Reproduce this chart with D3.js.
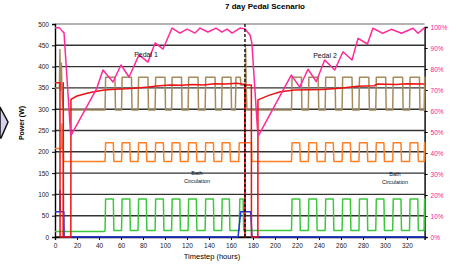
<!DOCTYPE html>
<html>
<head>
<meta charset="utf-8">
<script src="https://cdn.jsdelivr.net/npm/d3@7"></script>
<style>
  body { margin: 0; background: #fff; }
  svg { display: block; font-family: "Liberation Sans", Arial, sans-serif; }
</style>
</head>
<body>
<svg width="457" height="265"></svg>
<script>
// tick labels
const hourTicks = [0, 20, 40, 60, 80, 100, 120, 140, 160, 180, 200, 220, 240, 260, 280, 300, 320];
const powerTicks = [0, 50, 100, 150, 200, 250, 300, 350, 400, 450, 500];
const pctTicks = [0, 10, 20, 30, 40, 50, 60, 70, 80, 90, 100];

// pink line, right axis (%), [hour, percent]
const pinkPct = [
  [0, 99.7], [3.9, 99.7], [7, 97.8], [8.2, 97.3], [14.3, 48.2], [38, 70.8], [43.6, 79.5],
  [52.7, 73.8], [60, 81.9], [67.3, 76.2], [76.4, 86.7], [84.5, 83.3], [91, 92.4], [98.2, 89.5],
  [106.4, 99.5], [113.6, 97.1], [120, 99], [127.3, 97.1], [131.8, 99.5], [139, 97.6],
  [146.4, 99.5], [151.8, 97.6], [156.4, 99], [161, 97.1], [168.2, 99.5], [172.7, 99],
  [177.3, 96.2], [179, 92.4], [184.5, 47.8], [208, 70.5], [214.8, 77.1], [222.5, 71.4],
  [230, 79.9], [237.5, 74], [245.2, 84.3], [254.3, 79.5], [261.8, 88.2], [270, 84.3],
  [275.5, 94.6], [284, 91.9], [289, 99.4], [298, 97], [305.7, 98.9], [315, 97],
  [325.5, 99.4], [330, 97], [336, 99.7]
];

// red line (W)
const redW = [
  [0, 362], [4.5, 362], [4.6, 0], [7.4, 0], [7.5, 362], [7.7, 0], [14.4, 0], [14.5, 323],
  [20, 331], [30, 338], [38, 342], [45, 345], [55, 347], [65, 348], [75, 350], [85, 352],
  [95, 355], [105, 357], [115, 356], [125, 358], [135, 357], [145, 360], [155, 359],
  [165, 361], [172.5, 358], [172.6, 0], [172.8, 0], [172.9, 357], [178.5, 357], [178.6, 0],
  [184.4, 0], [184.5, 322], [195, 333], [205, 341], [218, 345], [243, 346], [259, 349],
  [275, 354], [290, 355], [293, 359], [310, 358], [320, 360], [336, 359]
];

// brown (W): start, on-periods, and the part around the dashed line
const brownStart = [[0, 350], [4, 350], [4.5, 440], [5, 345], [5.8, 408], [6.5, 330], [7.5, 298]];
const brownOn1 = [[45.5, 54.5], [60.5, 69.5], [75.5, 84.5], [91, 100], [106, 115], [121, 130], [136.5, 145.5], [151.5, 160]];
const brownMid = [[164, 298], [164.5, 375], [168.5, 375], [169, 357], [172.8, 357], [173.3, 444], [173.8, 357], [174.5, 298]];
const brownOn2 = [[215, 224], [230.3, 239.3], [245.6, 254.6], [261, 270], [276.3, 285.3], [291.6, 300.6], [307, 316], [322.3, 331.3], [335.6, 337]];
const brownLow = 298, brownHigh = 375;

// orange (W)
const orangeStart = [[0, 208], [6, 208], [6.2, 265], [6.5, 208], [7.5, 208], [7.8, 177]];
const orangeOn = [[45.5, 53], [60.5, 68], [75.5, 83], [91, 98.5], [106, 113.5], [121, 128.5], [136.5, 144], [151.5, 159], [167, 178.5],
  [215, 222.5], [230.3, 237.8], [245.6, 253], [261, 268.5], [276.3, 283.8], [291.6, 299], [307, 314.5], [322.3, 329.8], [335.5, 337]];
const orangeLow = 177, orangeHigh = 221;

// green (W)
const greenStart = [[0, 13], [45, 13]];
const greenOn = [[45.5, 53], [60.5, 68], [75.5, 83], [91, 98.5], [106, 113.5], [121, 128.5], [136.5, 144], [151.5, 158.5], [167.5, 171],
  [215, 222.5], [230.3, 237.8], [245.6, 253], [261, 268.5], [276.3, 283.8], [291.6, 299], [307, 314.5], [322.3, 329.8], [335.5, 337]];
const greenLow = 15, greenHigh = 89;

// blue (W)
const blueW = [
  [0, 59], [4.4, 59], [4.6, 110], [4.8, 59], [8, 59], [8.3, 0], [166.4, 0], [168.8, 59],
  [172.3, 59], [172.5, 106], [172.7, 59], [177.9, 59], [179.1, 0], [336, 0]
];

const dashedHour = 172.7;

function steps(on, lo, hi) {
  const pts = [];
  on.forEach(([a, b]) => {
    pts.push([a, lo], [a + 0.5, hi], [b, hi], [b + 0.5, lo]);
  });
  return pts;
}

const svg = d3.select('svg');
const plotLeft = 55, plotRight = 424.6, plotTop = 24, plotBottom = 237;

const x = d3.scaleLinear().domain([0, 336]).range([plotLeft, plotRight]);
const y = d3.scaleLinear().domain([0, 500]).range([plotBottom, plotTop]);
const yPct = d3.scaleLinear().domain([0, 100]).range([plotBottom, 27]);

svg.append('defs').append('clipPath').attr('id', 'plot')
  .append('rect').attr('x', plotLeft).attr('y', 0)
  .attr('width', plotRight - plotLeft + 1).attr('height', plotBottom + 2);

// odd shape at the left edge
svg.append('path')
    .attr('d', 'M0,107 L8,122 L1,138 L0,138 Z')
    .attr('fill', '#d9d0ef')
    .attr('stroke', '#111')
    .attr('stroke-width', 1.5);

// grid
svg.append('g')
  .selectAll('line')
  .data(powerTicks)
  .join('line')
    .attr('x1', plotLeft).attr('x2', plotRight)
    .attr('y1', d => y(d)).attr('y2', d => y(d))
    .attr('stroke', d => d === 500 ? '#9a9a9a' : '#333')
    .attr('stroke-width', 1.4);

// axes
const xAxis = svg.append('g')
    .attr('transform', `translate(0,${plotBottom})`)
    .call(d3.axisBottom(x).tickValues(hourTicks).tickSize(3).tickPadding(3));
const yAxis = svg.append('g')
    .attr('transform', `translate(${plotLeft},0)`)
    .call(d3.axisLeft(y).tickValues(powerTicks).tickSize(3).tickPadding(3));
const pAxis = svg.append('g')
    .attr('transform', `translate(${plotRight},0)`)
    .call(d3.axisRight(yPct).tickValues(pctTicks).tickSize(3).tickPadding(3).tickFormat(d => d + '%'));

[xAxis, yAxis, pAxis].forEach(g => {
  g.select('.domain').attr('stroke', '#000').attr('stroke-width', 1.4);
  g.selectAll('.tick line').attr('stroke', '#000');
  g.selectAll('text').attr('font-size', 6.5).attr('fill', '#222');
});
pAxis.selectAll('text').attr('fill', '#ff1493');

const line = d3.line().x(d => x(d[0])).y(d => y(d[1]));
const pctLine = d3.line().x(d => x(d[0])).y(d => yPct(d[1]));

const series = svg.append('g').attr('clip-path', 'url(#plot)');

function draw(points, color, gen) {
  series.append('path')
      .attr('d', (gen || line)(points))
      .attr('fill', 'none')
      .attr('stroke', color)
      .attr('stroke-width', 1.5)
      .attr('stroke-linejoin', 'round');
}

draw([...greenStart, ...steps(greenOn, greenLow, greenHigh)], '#3cc83c');
draw([...orangeStart, ...steps(orangeOn, orangeLow, orangeHigh)], '#ff8024');
draw([...brownStart, ...steps(brownOn1, brownLow, brownHigh), ...brownMid, ...steps(brownOn2, brownLow, brownHigh)], '#a58b5c');
draw(blueW, '#1f35e0');
draw(redW, '#ee1111');
draw(pinkPct, '#ff2a9a', pctLine);

svg.append('line')
    .attr('x1', x(dashedHour)).attr('x2', x(dashedHour))
    .attr('y1', y(500)).attr('y2', y(0))
    .attr('stroke', '#000')
    .attr('stroke-width', 1.3)
    .attr('stroke-dasharray', '3,2');

// texts
svg.append('text')
    .attr('x', 265).attr('y', 9)
    .attr('text-anchor', 'middle')
    .attr('font-size', 8).attr('font-weight', 'bold')
    .text('7 day Pedal Scenario');

svg.append('text')
    .attr('x', 212).attr('y', 259)
    .attr('text-anchor', 'middle')
    .attr('font-size', 7.5)
    .text('Timestep (hours)');

svg.append('text')
    .attr('transform', 'translate(24,123) rotate(-90)')
    .attr('text-anchor', 'middle')
    .attr('font-size', 7).attr('font-weight', 'bold')
    .text('Power (W)');

const notes = [
  { x: 146, y: 57, lines: ['Pedal 1'], size: 7 },
  { x: 325, y: 58, lines: ['Pedal 2'], size: 7 },
  { x: 197, y: 175, lines: ['Bath', 'Circulation'], size: 5.5 },
  { x: 395, y: 176, lines: ['Bath', 'Circulation'], size: 5.5 }
];
notes.forEach(n => {
  const t = svg.append('text')
      .attr('text-anchor', 'middle')
      .attr('font-size', n.size)
      .attr('fill', '#111');
  n.lines.forEach((s, i) => {
    t.append('tspan').attr('x', n.x).attr('y', n.y + i * 8).text(s);
  });
});
</script>
</body>
</html>
